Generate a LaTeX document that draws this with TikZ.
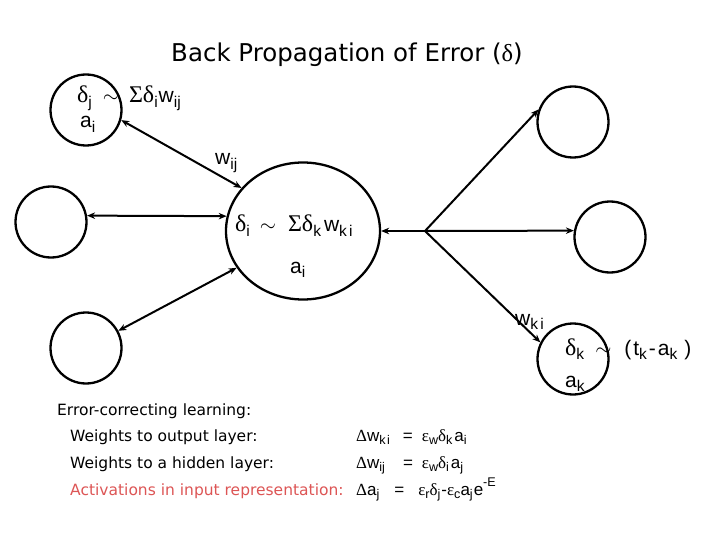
\documentclass[tikz,border=0pt]{standalone}
\usepackage{fontspec}
\setmainfont{DejaVu Sans}
\newfontfamily\lab{Liberation Sans}
\newfontfamily\gk{Liberation Serif}
\usetikzlibrary{arrows.meta,shapes.geometric}
\definecolor{actred}{RGB}{221,85,85}
\newcommand\G[1]{{\gk #1}}
\newcommand\GL[1]{\scalebox{1.14}{\gk #1}}
\newcommand\Sub[1]{\raisebox{-0.22em}{\scalebox{0.74}{#1}}}
\newcommand\Sup[1]{\raisebox{0.5em}{\scalebox{0.74}{#1}}}
\begin{document}
\begin{tikzpicture}[x=1pt,y=-1pt,
  neuron/.style={circle,draw,line width=2.3pt,minimum size=71pt,inner sep=0pt},
  tip/.tip={Stealth[length=8pt,width=6.5pt]},
  link/.style={line width=2pt,-tip},
  blink/.style={line width=2pt,tip-tip},
  lbl/.style={font=\lab\fontsize{21}{25}\selectfont,inner sep=0pt,anchor=base west},
  frm/.style={font=\lab\fontsize{17}{20}\selectfont,inner sep=0pt,anchor=base west},
  txt/.style={font=\fontsize{15.5}{18}\selectfont,inner sep=0pt,anchor=base west}]
\useasboundingbox (0,0) rectangle (720,540);
\fill[white] (0,0) rectangle (720,540);

\node[neuron] (j) at (86,110) {};
\node[neuron] (l1) at (51,222) {};
\node[neuron] (l2) at (86,348) {};
\node[neuron] (o1) at (573,122) {};
\node[neuron] (o2) at (610,237) {};
\node[neuron] (k) at (573,359) {};
\node[ellipse,draw,line width=2.3pt,minimum width=154pt,minimum height=137pt,inner sep=0pt] (hid) at (303,231) {};

\coordinate (fan) at (425,231);
\draw[blink] (j.-16) -- (hid.145);
\draw[blink] (l1.10) -- (hid.169);
\draw[blink] (l2.28) -- (hid.209);
\draw[link] (fan) -- (hid.east);
\draw[link] (fan) -- (o1.160);
\draw[link] (fan) -- (o2.170);
\draw[link] (fan) -- (k.153);

\node[txt,font=\fontsize{24.5}{28}\selectfont] (title) at (171,62) {Back Propagation of Error (\G{δ})};

\node[lbl] (tj) at (77,103) {\GL{δ}\Sub{j}\hspace{11pt}$\sim$\hspace{10pt}\GL{Σδ}\Sub{i}\hspace{1pt}w\Sub{ij}};
\node[lbl] (taj) at (80,128) {a\Sub{i}};
\node[lbl] (twij) at (215,165) {w\Sub{ij}};
\node[lbl] (ti) at (235,232) {\GL{δ}\Sub{i}\hspace{10pt}$\sim$\hspace{12pt}\GL{Σδ}\Sub{k}\hspace{3pt}w\Sub{k\hspace{3pt}i}};
\node[lbl] (tai) at (290,273) {a\Sub{i}};
\node[lbl] (twki) at (515,325) {w\Sub{k\hspace{3pt}i}};
\node[lbl] (tk) at (565,355) {\GL{δ}\Sub{k}\hspace{11pt}$\sim$\hspace{13pt}(\hspace{2pt}t\Sub{k}\hspace{2pt}-\hspace{2pt}a\Sub{k}\hspace{7pt})};
\node[lbl] (tak) at (565,387) {a\Sub{k}};

\node[txt] (e0) at (57,415) {Error-correcting learning:};
\node[txt] (e1) at (70,441) {Weights to output layer:};
\node[txt] (e2) at (70,468) {Weights to a hidden layer:};
\node[txt,text=actred] (e3) at (70,495) {Activations in input representation:};
\node[frm] (f1) at (356,441) {\G{Δ}w\Sub{k\hspace{2pt}i}\hspace{13pt}=\hspace{9pt}\G{ε}\Sub{w}\G{δ}\Sub{k}\hspace{2pt}a\Sub{i}};
\node[frm] (f2) at (356,468) {\G{Δ}w\Sub{ij}\hspace{18pt}=\hspace{9pt}\G{ε}\Sub{w}\G{δ}\Sub{i}\hspace{2pt}a\Sub{j}};
\node[frm] (f3) at (356,495) {\G{Δ}a\Sub{j}\hspace{15pt}=\hspace{14pt}\G{ε}\Sub{r}\G{δ}\Sub{j}\hspace{1pt}-\G{ε}\Sub{c}a\Sub{j}\hspace{1pt}e\Sup{-E}};
\end{tikzpicture}
\end{document}
